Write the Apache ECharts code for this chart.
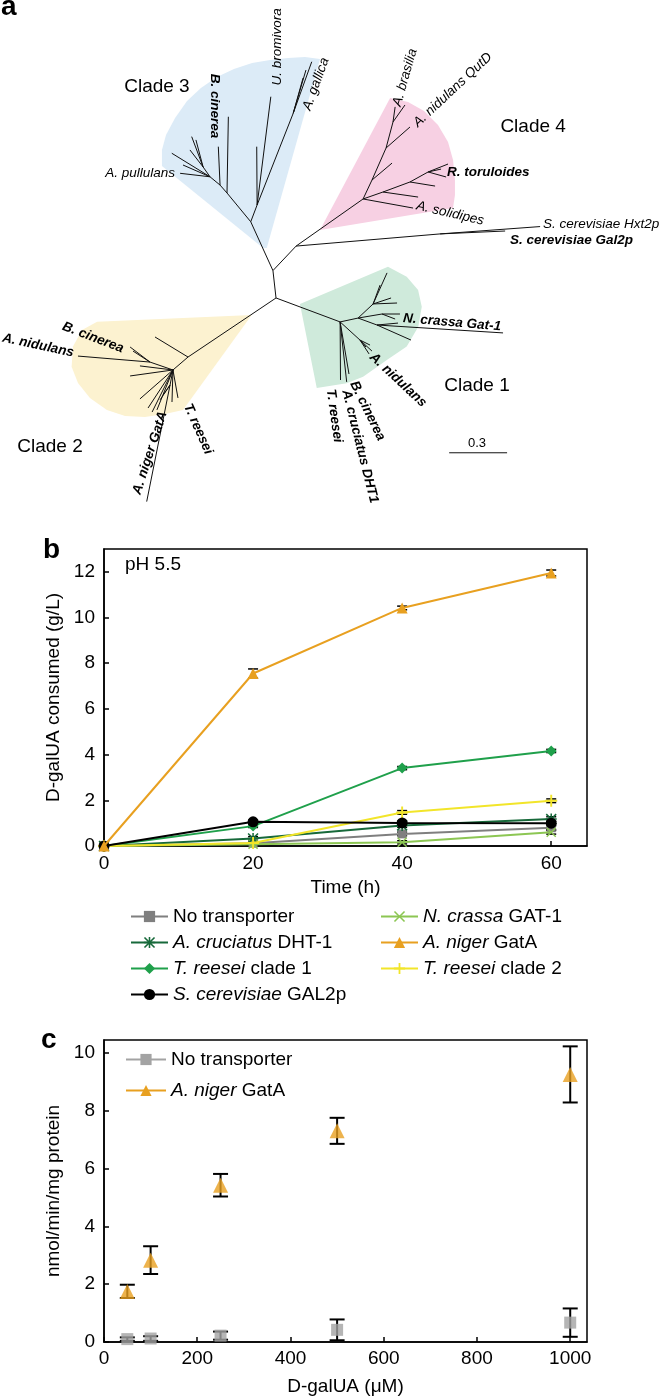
<!DOCTYPE html>
<html><head><meta charset="utf-8">
<script src="https://cdn.jsdelivr.net/npm/echarts@6/dist/echarts.min.js"></script>
<style>html,body{margin:0;padding:0;background:#fff}#c{width:659px;height:1397px}</style>
</head><body><div id="c"></div>
<script>
const FONT = '"Liberation Sans", Arial, Helvetica, sans-serif';

// ---------- Panel a: tree (branch-length units, origin at central node) ----------
const treeNodes = {
  R0:[0,0], A:[-0.016,0.142], B:[0.104,0.269],
  N3a:[-0.131,0.395], N3f:[-0.254,0.544], N3e:[-0.290,0.585], N3b:[-0.342,0.628], N3g:[-0.378,0.679],
  N3c:[-0.098,0.482], N3d:[0.089,0.957],
  C4:[0.451,0.513], T1:[0.554,0.549], T2:[0.694,0.601], T3:[0.788,0.653],
  U1:[0.497,0.611], U2:[0.570,0.777], U3:[0.606,0.912], S:[0.850,0.332],
  N2a:[-0.456,-0.306], N2b:[-0.534,-0.373], N2c:[-0.549,-0.451], N2d:[-0.653,-0.332],
  N1a:[0.332,-0.124], N1b:[0.425,-0.104], N1c:[0.503,-0.031], N1d:[0.549,-0.083], N1e:[0.523,-0.140], N1f:[0.435,-0.218]
};
const treeBranches = [
  ['R0','A'],['A','B'],['A','N3a'],['N3a','N3f'],['N3f','N3e'],['N3e','N3b'],['N3b','N3g'],['N3a','N3c'],['N3c','N3d'],
  ['N3f',[-0.247,0.939]],['N3e',[-0.299,0.784]],
  ['N3b',[-0.497,0.646]],['N3b',[-0.540,0.750]],['N3b',[-0.482,0.689]],
  ['N3g',[-0.437,0.836]],['N3g',[-0.415,0.819]],['N3g',[-0.446,0.767]],
  ['N3c',[-0.027,1.043]],['N3c',[-0.100,0.784]],
  ['N3d',[0.185,1.224]],['N3d',[0.155,1.181]],['N3d',[0.140,1.140]],
  ['B','C4'],['C4','T1'],['T1','T2'],['T2','T3'],['T1',[0.736,0.523]],['T2',[0.824,0.580]],
  ['T3',[0.891,0.694]],['T3',[0.855,0.668]],['T3',[0.881,0.627]],['C4',[0.710,0.466]],
  ['C4','U1'],['U1','U2'],['U2','U3'],['U1',[0.601,0.699]],['U2',[0.694,0.886]],['U3',[0.617,0.990]],['U3',[0.668,1.000]],
  ['B','S'],['S',[1.368,0.370]],['S',[1.187,0.347]],
  ['R0','N2a'],['N2a','N2b'],['N2b','N2c'],['N2b','N2d'],['N2a',[-0.627,-0.202]],
  ['N2d',[-1.026,-0.301]],['N2d',[-0.756,-0.254]],['N2d',[-0.741,-0.275]],
  ['N2b',[-0.705,-0.352]],['N2b',[-0.756,-0.404]],['N2b',[-0.705,-0.523]],['N2b',[-0.663,-0.570]],
  ['N2b',[-0.642,-0.591]],['N2b',[-0.617,-0.580]],['N2b',[-0.539,-0.539]],['N2b',[-0.508,-0.518]],
  ['N2c',[-0.670,-1.055]],['N2c',[-0.601,-0.528]],['N2c',[-0.585,-0.503]],
  ['R0','N1a'],['N1a','N1b'],['N1b','N1c'],['N1b','N1d'],['N1b','N1e'],['N1a','N1f'],
  ['N1c',[0.575,0.130]],['N1c',[0.539,0.067]],['N1c',[0.596,0.000]],['N1c',[0.627,-0.026]],
  ['N1d',[0.642,-0.083]],['N1d',[0.617,-0.109]],
  ['N1e',[1.176,-0.181]],['N1e',[0.699,-0.218]],['N1e',[0.632,-0.130]],
  ['N1f',[0.497,-0.275]],['N1f',[0.482,-0.290]],['N1f',[0.466,-0.254]],['N1f',[0.487,-0.244]],
  ['N1a',[0.334,-0.425]],['N1a',[0.366,-0.435]],['N1a',[0.378,-0.394]]
];
const scaleBar = {start:[0.897,-0.802], length:0.3};
const clade3Outline = [[-0.067,0.259],[-0.591,0.684],[-0.591,0.767],[-0.570,0.845],[-0.523,0.933],[-0.461,1.021],[-0.389,1.088],[-0.306,1.145],[-0.218,1.187],[-0.124,1.218],[-0.031,1.233],[0.062,1.244],[0.150,1.249],[0.228,1.238],[-0.048,0.259]];
const clade4Outline = [[0.228,0.352],[0.591,1.036],[0.684,1.016],[0.767,0.969],[0.839,0.896],[0.891,0.808],[0.917,0.715],[0.927,0.611],[0.927,0.534],[0.917,0.466]];
const clade2Outline = [[-0.126,-0.088],[-0.927,-0.123],[-1.005,-0.166],[-1.052,-0.252],[-1.059,-0.356],[-1.026,-0.440],[-0.964,-0.518],[-0.876,-0.580],[-0.782,-0.611],[-0.679,-0.617],[-0.575,-0.601],[-0.482,-0.580]];
const clade1Outline = [[0.580,0.162],[0.124,-0.031],[0.211,-0.466],[0.366,-0.442],[0.451,-0.408],[0.574,-0.321],[0.677,-0.252],[0.737,-0.149],[0.755,-0.045],[0.736,0.041],[0.677,0.110]];
// [text, u, v, rotation(deg), kind, align]
const treeLabels = [
  ['Clade 3',-0.617,1.093,0,'n'],
  ['B. cinerea',-0.316,0.995,-90,'bi'],
  ['U. bromivora',0.005,1.301,90,'i'],
  ['A. gallica',0.207,1.109,70,'i'],
  ['A. pullulans',-0.523,0.648,0,'i','right'],
  ['Clade 4',1.332,0.886,0,'n'],
  ['A. brasilia',0.668,1.142,74,'i'],
  ['A. nidulans QutD',0.915,1.078,43,'i'],
  ['R. toruloides',0.886,0.649,0,'bi','left'],
  ['A. solidipes',0.902,0.438,-13,'i'],
  ['S. cerevisiae Hxt2p',1.383,0.383,0,'i','left'],
  ['S. cerevisiae Gal2p',1.212,0.301,0,'bi','left'],
  ['Clade 2',-1.171,-0.772,0,'n'],
  ['B. cinerea',-0.948,-0.205,-21,'bi'],
  ['A. nidulans',-1.233,-0.246,-12,'bi'],
  ['A. niger GatA',-0.653,-0.803,72,'bi'],
  ['T. reesei',-0.404,-0.679,-66,'bi'],
  ['Clade 1',1.041,-0.456,0,'n'],
  ['N. crassa Gat-1',0.912,-0.127,-5,'bi'],
  ['A. nidulans',0.632,-0.425,-43,'bi'],
  ['B. cinerea',0.474,-0.585,-64,'bi'],
  ['A. cruciatus DHT1',0.435,-0.770,-76,'bi'],
  ['T. reesei',0.301,-0.611,-82,'bi'],
  ['0.3',1.041,-0.751,0,'s']
];

// ---------- Panel b data ----------
const timeH = [0, 20, 40, 60];
const noTransporterB = [0, 0.12, 0.53, 0.80];
const crassaGat1 = [0, 0.08, 0.16, 0.60];
const cruciatusDht1 = [0, 0.33, 0.90, 1.18];
const treeseiClade1 = [0, 0.87, 3.41, 4.16];
const treeseiClade2 = [0, 0.13, 1.47, 1.98];
const cerevisiaeGal2p = [0, 1.06, 1.01, 1.00];
const nigerGatA = [0, 7.55, 10.42, 11.95];
const errNoTransporterB = [0, 0.04, 0.08, 0.08];
const errCrassaGat1 = [0, 0.04, 0.07, 0.08];
const errCruciatusDht1 = [0, 0.08, 0.08, 0.10];
const errTreeseiClade1 = [0, 0.06, 0.07, 0.07];
const errTreeseiClade2 = [0, 0.04, 0.08, 0.08];
const errCerevisiaeGal2p = [0, 0.07, 0.07, 0.08];
const errNigerGatA = [0, 0.20, 0.08, 0.13];

// ---------- Panel c data ----------
const galUA = [50, 100, 250, 500, 1000];
const cNigerGatA = [1.75, 2.83, 5.42, 7.30, 9.25];
const cNigerGatAErr = [0.23, 0.48, 0.39, 0.45, 0.97];
const cNoTransporter = [0.10, 0.12, 0.22, 0.42, 0.67];
const cNoTransporterErr = [0.06, 0.08, 0.14, 0.36, 0.49];

// ---------- helpers ----------
const crossPath = 'path://M0,1L1,0L5,4L9,0L10,1L6,5L10,9L9,10L5,6L1,10L0,9L4,5Z';
const plusPath = 'path://M4.2,0H5.8V4.2H10V5.8H5.8V10H4.2V5.8H0V4.2H4.2Z';
const starPath = 'path://M4.3,0H5.7V10H4.3Z M0,4.3H10V5.7H0Z M1,0L10,9L9,10L0,1Z M9,0L10,1L1,10L0,9Z';

function errorBarRenderer(capHalf, lw) {
  return function (params, api) {
    const x = api.value(0), lo = api.value(1), hi = api.value(2);
    const a = api.coord([x, lo]), b = api.coord([x, hi]);
    const st = () => ({stroke: '#000', lineWidth: lw});
    return {type: 'group', children: [
      {type: 'line', shape: {x1: a[0], y1: a[1], x2: b[0], y2: b[1]}, style: st()},
      {type: 'line', shape: {x1: a[0] - capHalf, y1: a[1], x2: a[0] + capHalf, y2: a[1]}, style: st()},
      {type: 'line', shape: {x1: b[0] - capHalf, y1: b[1], x2: b[0] + capHalf, y2: b[1]}, style: st()}
    ]};
  };
}

const bSeriesDefs = [
  {name: 'No transporter', vals: noTransporterB, err: errNoTransporterB, color: '#7f7f7f', symbol: 'rect', size: 9},
  {name: 'N. crassa GAT-1', vals: crassaGat1, err: errCrassaGat1, color: '#8cc653', symbol: crossPath, size: 10},
  {name: 'A. cruciatus DHT-1', vals: cruciatusDht1, err: errCruciatusDht1, color: '#17693a', symbol: starPath, size: 11},
  {name: 'T. reesei clade 1', vals: treeseiClade1, err: errTreeseiClade1, color: '#1fa04b', symbol: 'diamond', size: 11},
  {name: 'T. reesei clade 2', vals: treeseiClade2, err: errTreeseiClade2, color: '#f2e52a', symbol: plusPath, size: 12},
  {name: 'S. cerevisiae GAL2p', vals: cerevisiaeGal2p, err: errCerevisiaeGal2p, color: '#000000', symbol: 'circle', size: 11},
  {name: 'A. niger GatA', vals: nigerGatA, err: errNigerGatA, color: '#e8a020', symbol: 'triangle', size: 11}
];

const legendParts = {
  'No transporter': [null, 'No transporter'],
  'A. cruciatus DHT-1': ['A. cruciatus', ' DHT-1'],
  'T. reesei clade 1': ['T. reesei', ' clade 1'],
  'S. cerevisiae GAL2p': ['S. cerevisiae', ' GAL2p'],
  'N. crassa GAT-1': ['N. crassa', ' GAT-1'],
  'A. niger GatA': ['A. niger', ' GatA'],
  'T. reesei clade 2': ['T. reesei', ' clade 2'],
  'c:No transporter': [null, 'No transporter'],
  'c:A. niger GatA': ['A. niger', ' GatA']
};
function legendFormatter(name) {
  const p = legendParts[name];
  return (p[0] ? '{i|' + p[0] + '}' : '') + '{n|' + p[1] + '}';
}
const legendText = {fontSize: 19, fontFamily: FONT, color: '#000',
  rich: {i: {fontStyle: 'italic', fontSize: 19, fontFamily: FONT, color: '#000'}, n: {fontSize: 19, fontFamily: FONT, color: '#000'}}};

const series = [];
// tree shading
const cladeOutlines = [clade3Outline, clade4Outline, clade2Outline, clade1Outline];
const cladeColors = ['#dcebf7', '#f7d0e3', '#fcf2d0', '#cfeadb'];
series.push({
  type: 'custom', xAxisIndex: 0, yAxisIndex: 0, silent: true, clip: false, z: 1,
  data: cladeOutlines.map((o, i) => [o[0][0], o[0][1], i]),
  renderItem: (params, api) => ({
    type: 'polygon',
    shape: {points: cladeOutlines[params.dataIndex].map(p => api.coord(p))},
    style: {fill: cladeColors[params.dataIndex]}
  })
});
// tree branches
const segs = treeBranches.map(([p, c]) => {
  const a = treeNodes[p]; const b = typeof c === 'string' ? treeNodes[c] : c;
  return [a[0], a[1], b[0], b[1]];
});
segs.push([scaleBar.start[0], scaleBar.start[1], scaleBar.start[0] + scaleBar.length, scaleBar.start[1]]);
series.push({
  type: 'custom', xAxisIndex: 0, yAxisIndex: 0, silent: true, clip: false, z: 2,
  encode: {x: [0, 2], y: [1, 3]},
  data: segs,
  renderItem: (params, api) => {
    const a = api.coord([api.value(0), api.value(1)]), b = api.coord([api.value(2), api.value(3)]);
    return {type: 'line', shape: {x1: a[0], y1: a[1], x2: b[0], y2: b[1]}, style: {stroke: '#111', lineWidth: 1}};
  }
});
// tree labels
series.push({
  type: 'custom', xAxisIndex: 0, yAxisIndex: 0, silent: true, clip: false, z: 3,
  data: treeLabels.map(l => [l[1], l[2]]),
  renderItem: (params, api) => {
    const L = treeLabels[params.dataIndex];
    const p = api.coord([L[1], L[2]]);
    const kind = L[4];
    return {type: 'text', x: p[0], y: p[1], rotation: L[3] * Math.PI / 180,
      style: {text: L[0], fontFamily: FONT,
        fontSize: kind === 'n' ? 19 : (kind === 's' ? 13 : 13.5),
        fontWeight: kind === 'bi' ? 'bold' : 'normal',
        fontStyle: (kind === 'i' || kind === 'bi') ? 'italic' : 'normal',
        fill: '#000', align: L[5] || 'center', verticalAlign: 'middle'}};
  }
});

// panel b
bSeriesDefs.forEach(d => {
  series.push({
    type: 'custom', xAxisIndex: 1, yAxisIndex: 1, silent: true, z: 4,
    encode: {x: 0, y: [1, 2]},
    data: timeH.map((t, i) => [t, d.vals[i] - d.err[i], d.vals[i] + d.err[i]]).filter((r, i) => d.err[i] > 0),
    renderItem: errorBarRenderer(5, 1.5)
  });
});
bSeriesDefs.forEach((d, k) => {
  series.push({
    name: d.name, type: 'line', xAxisIndex: 1, yAxisIndex: 1, z: 5 + k,
    data: timeH.map((t, i) => [t, d.vals[i]]),
    symbol: d.symbol, symbolSize: d.size, showSymbol: true,
    lineStyle: {color: d.color, width: 2}, itemStyle: {color: d.color},
    emphasis: {disabled: true}
  });
});

// panel c
series.push({
  type: 'custom', xAxisIndex: 2, yAxisIndex: 2, silent: true, z: 4,
  encode: {x: 0, y: [1, 2]},
  data: galUA.map((x, i) => [x, cNoTransporter[i] - cNoTransporterErr[i], cNoTransporter[i] + cNoTransporterErr[i]]),
  renderItem: errorBarRenderer(7.5, 2)
});
series.push({
  type: 'custom', xAxisIndex: 2, yAxisIndex: 2, silent: true, z: 4,
  encode: {x: 0, y: [1, 2]},
  data: galUA.map((x, i) => [x, cNigerGatA[i] - cNigerGatAErr[i], cNigerGatA[i] + cNigerGatAErr[i]]),
  renderItem: errorBarRenderer(7.5, 2)
});
series.push({
  name: 'cpts-none', type: 'scatter', xAxisIndex: 2, yAxisIndex: 2, z: 6,
  data: galUA.map((x, i) => [x, cNoTransporter[i]]),
  symbol: 'rect', symbolSize: 12, itemStyle: {color: '#a3a3a3'}, emphasis: {disabled: true}
});
series.push({
  name: 'cpts-gata', type: 'scatter', xAxisIndex: 2, yAxisIndex: 2, z: 6,
  data: galUA.map((x, i) => [x, cNigerGatA[i]]),
  symbol: 'triangle', symbolSize: 15, itemStyle: {color: '#e8a020'}, emphasis: {disabled: true}
});
series.push({
  name: 'c:No transporter', type: 'line', xAxisIndex: 2, yAxisIndex: 2, data: [],
  symbol: 'rect', symbolSize: 12, lineStyle: {color: '#a3a3a3', width: 2}, itemStyle: {color: '#a3a3a3'}
});
series.push({
  name: 'c:A. niger GatA', type: 'line', xAxisIndex: 2, yAxisIndex: 2, data: [],
  symbol: 'triangle', symbolSize: 14, lineStyle: {color: '#e8a020', width: 2}, itemStyle: {color: '#e8a020'}
});

const axisCommon = {
  axisLine: {show: true, lineStyle: {color: '#000', width: 1.5}},
  axisTick: {show: true, inside: true, length: 5, lineStyle: {color: '#000', width: 1.5}},
  axisLabel: {color: '#000', fontSize: 19, fontFamily: FONT, showMaxLabel: false, formatter: v => String(v)},
  splitLine: {show: false},
  nameTextStyle: {color: '#000', fontSize: 19, fontFamily: FONT}
};

const option = {
  animation: false,
  backgroundColor: '#fff',
  grid: [
    {left: 0, top: 0, width: 659, height: 540, show: false},
    {left: 104, top: 549, width: 483, height: 297, show: true, borderColor: '#000', borderWidth: 1.5, backgroundColor: 'transparent'},
    {left: 104, top: 1040, width: 483, height: 302, show: true, borderColor: '#000', borderWidth: 1.5, backgroundColor: 'transparent'}
  ],
  xAxis: [
    {type: 'value', gridIndex: 0, min: -1.430, max: 1.984, show: false},
    Object.assign({type: 'value', gridIndex: 1, min: 0, max: 64.8, interval: 20, name: 'Time (h)', nameLocation: 'middle', nameGap: 32}, axisCommon,
      {axisLabel: Object.assign({}, axisCommon.axisLabel, {margin: 8})}),
    Object.assign({type: 'value', gridIndex: 2, min: 0, max: 1036, interval: 200, name: 'D-galUA (μM)', nameLocation: 'middle', nameGap: 35}, axisCommon,
      {axisLabel: Object.assign({}, axisCommon.axisLabel, {margin: 7})})
  ],
  yAxis: [
    {type: 'value', gridIndex: 0, min: -1.254, max: 1.544, show: false},
    Object.assign({type: 'value', gridIndex: 1, min: 0, max: 13, interval: 2, name: 'D-galUA consumed (g/L)', nameLocation: 'middle', nameGap: 41}, axisCommon,
      {axisLabel: Object.assign({}, axisCommon.axisLabel, {margin: 9})}),
    Object.assign({type: 'value', gridIndex: 2, min: 0, max: 10.44, interval: 2, name: 'nmol/min/mg protein', nameLocation: 'middle', nameGap: 41}, axisCommon,
      {axisLabel: Object.assign({}, axisCommon.axisLabel, {margin: 9})})
  ],
  legend: [
    {left: 125, top: 902, orient: 'vertical', itemWidth: 37, itemHeight: 14, itemGap: 7, selectedMode: false,
      data: ['No transporter', 'A. cruciatus DHT-1', 'T. reesei clade 1', 'S. cerevisiae GAL2p'],
      formatter: legendFormatter, textStyle: legendText},
    {left: 375, top: 902, orient: 'vertical', itemWidth: 37, itemHeight: 14, itemGap: 7, selectedMode: false,
      data: ['N. crassa GAT-1', 'A. niger GatA', 'T. reesei clade 2'],
      formatter: legendFormatter, textStyle: legendText},
    {left: 120, top: 1045, orient: 'vertical', itemWidth: 40, itemHeight: 14, itemGap: 12, selectedMode: false,
      data: ['c:No transporter', 'c:A. niger GatA'],
      formatter: legendFormatter, textStyle: legendText}
  ],
  graphic: [
    {type: 'text', left: 1, top: -7, style: {text: 'a', fontSize: 28, fontWeight: 'bold', fontFamily: FONT, fill: '#000'}},
    {type: 'text', left: 43, top: 536, style: {text: 'b', fontSize: 28, fontWeight: 'bold', fontFamily: FONT, fill: '#000'}},
    {type: 'text', left: 41, top: 1026, style: {text: 'c', fontSize: 28, fontWeight: 'bold', fontFamily: FONT, fill: '#000'}},
    {type: 'text', left: 125, top: 555, style: {text: 'pH 5.5', fontSize: 19, fontFamily: FONT, fill: '#000'}}
  ],
  series: series
};

const chart = echarts.init(document.getElementById('c'), null, {renderer: 'canvas'});
chart.setOption(option);
</script></body></html>
